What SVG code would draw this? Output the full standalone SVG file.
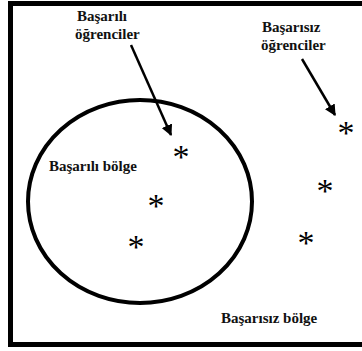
<svg xmlns="http://www.w3.org/2000/svg" width="362" height="351" viewBox="0 0 362 351">
<style>
.t{font-family:"Liberation Serif","Times New Roman",serif;font-weight:bold;font-size:15px;fill:#111}
.s{font-family:"Liberation Serif","Times New Roman",serif;font-size:34px;fill:#000;text-anchor:middle}
.c{stroke:#000;stroke-width:2.5;fill:none}
</style>
<defs>
<marker id="ah" viewBox="0 0 10 10" refX="9" refY="5" markerWidth="4.5" markerHeight="4.5" orient="auto" markerUnits="strokeWidth">
<path d="M0,0 L10,5 L0,10 z" fill="#000"/>
</marker>
</defs>
<rect x="10.5" y="3.5" width="360" height="341" fill="#fff" stroke="#000" stroke-width="5"/>
<g id="region-success">
<ellipse cx="140" cy="201.5" rx="112" ry="101.5" fill="none" stroke="#000" stroke-width="4"/>
<text class="t" x="49" y="170.5">Başarılı bölge</text>
</g>
<g id="region-fail">
<text class="t" x="221" y="323">Başarısız bölge</text>
</g>
<g id="label-success">
<text class="t" x="77" y="21">Başarılı</text>
<text class="t" x="75" y="39">öğrenciler</text>
</g>
<g id="label-fail">
<text class="t" x="262" y="32">Başarısız</text>
<text class="t" x="261" y="50">öğrenciler</text>
</g>
<g id="students">
<text class="s" x="181" y="168">*</text>
<text class="s" x="156" y="217">*</text>
<text class="s" x="136" y="258">*</text>
<text class="s" x="346" y="144">*</text>
<text class="s" x="325" y="202">*</text>
<text class="s" x="306" y="254">*</text>
</g>
<g id="connectors">
<line class="c" x1="131" y1="45" x2="171" y2="135" marker-end="url(#ah)"/>
<line class="c" x1="302" y1="59" x2="335" y2="115" marker-end="url(#ah)"/>
</g>
</svg>
